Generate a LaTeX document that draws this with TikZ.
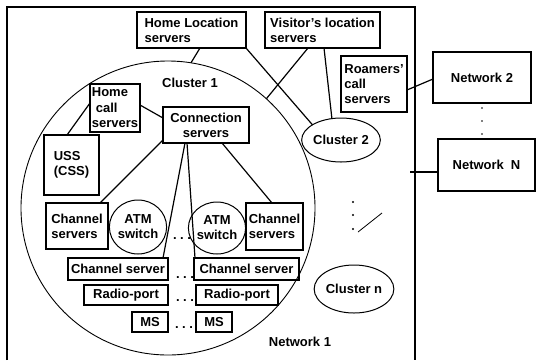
\documentclass[tikz,border=0pt]{standalone}
\usepackage{fontspec}
\setmainfont{Liberation Sans}
\usetikzlibrary{shapes.geometric}
\begin{document}
\begin{tikzpicture}[x=1pt,y=-1pt,
  txt/.style={font=\bfseries\fontsize{13}{15}\selectfont},
  box/.style={txt, draw, line width=1.1pt, rectangle, inner sep=0pt, outer sep=0pt, align=left},
  oval/.style={txt, draw, line width=1pt, ellipse, inner sep=0pt, outer sep=0pt, align=center},
  conn/.style={line width=1.2pt},
  frame/.style={line width=1.1pt},
  dotrow/.style={txt, inner sep=0pt, anchor=base}
]
\useasboundingbox (0,0) rectangle (538,360);
% Network 1 frame
\coordinate (fbl) at (7,360);
\coordinate (ftl) at (7,7);
\coordinate (ftr) at (415,7);
\coordinate (fbr) at (415,360);
\draw[frame] (fbl) -- (ftl) -- (ftr) -- (fbr);
% Cluster 1
\node[draw, circle, minimum size=294, inner sep=0pt, outer sep=0pt, line width=0.9pt] (c1) at (168,208) {};
\node[txt] (c1l) at (190,83) {Cluster 1};
% top servers
\node[box, minimum width=109, minimum height=36] (hls) at (191.5,30) {Home Location\\servers};
\node[box, minimum width=115, minimum height=36] (vls) at (322.5,30) {Visitor's location\\servers};
\node[box, minimum width=66, minimum height=56] (rcs) at (374,84) {Roamers'\\call\\servers};
\node[box, minimum width=98, minimum height=51, align=center] (net2) at (482,77.5) {Network 2};
\node[box, minimum width=97, minimum height=52, align=center] (netN) at (486.5,165) {Network\hspace{7pt}N};
% inside cluster 1
\node[box, minimum width=50, minimum height=48, font=\bfseries\fontsize{13}{15.5}\selectfont] (hcs) at (115,108) {Home\\\hspace{4pt}call\\servers};
\node[box, minimum width=86, minimum height=36, align=center] (cs) at (206,125) {Connection\\servers};
\node[box, minimum width=55, minimum height=60] (uss) at (71.5,165) {USS\\(CSS)};
\node[box, minimum width=62, minimum height=46] (chl) at (77,226) {Channel\\servers};
\node[oval, minimum width=50, minimum height=54] (atml) at (138,227) {ATM\\switch};
\node[oval, minimum width=46, minimum height=52] (atmr) at (217,228) {ATM\\switch};
\node[box, minimum width=57, minimum height=47] (chr) at (274.5,226.5) {Channel\\servers};
\node[box, minimum width=100, minimum height=22, align=center] (csl) at (118,269) {Channel server};
\node[box, minimum width=105, minimum height=22, align=center] (csr) at (246.5,269) {Channel server};
\node[box, minimum width=84, minimum height=20, align=center] (rpl) at (126,295) {Radio-port};
\node[box, minimum width=82, minimum height=20, align=center] (rpr) at (237,295) {Radio-port};
\node[box, minimum width=36, minimum height=20, align=center] (msl) at (150,322) {MS};
\node[box, minimum width=36, minimum height=20, align=center] (msr) at (214,322) {MS};
\node[dotrow] (d1) at (182,239) {.\hspace{3.5pt}.\hspace{3.5pt}.};
\node[dotrow] (d2) at (185,278) {.\hspace{3.5pt}.\hspace{3.5pt}.};
\node[dotrow] (d3) at (185,301) {.\hspace{3.5pt}.\hspace{3.5pt}.};
\node[dotrow] (d4) at (184,328) {.\hspace{3.5pt}.\hspace{3.5pt}.};
% other clusters
\node[oval, minimum width=62, minimum height=44] (cl2) at (341,140) {Cluster 2};
\node[oval, minimum width=69, minimum height=48] (cln) at (354,289) {Cluster n};
\node[txt] (n1l) at (300,342) {Network 1};
% dots
\fill (482,108) circle (0.9) (482,121) circle (0.9) (482,134) circle (0.9);
\fill (353,202) circle (1.1) (353,215) circle (1.1) (353,229) circle (1.1);
\coordinate (sl1) at (358,232);
\coordinate (sl2) at (382,213);
\draw[line width=0.8pt] (sl1) -- (sl2);
% connectors
\coordinate (nNend) at (410,172);
\draw[conn] ([xshift=8.5pt]hls.south) -- (c1.81);
\draw[conn] (hls.south east) -- (cl2.152);
\draw[conn] ([xshift=-14.5pt]vls.south) -- (c1.48);
\draw[conn] ([xshift=1.5pt]vls.south) -- (cl2.113);
\draw[conn] ([yshift=-6pt]rcs.east) -- ([yshift=-1.5pt]net2.west);
\draw[conn] ([yshift=-7pt]netN.west) -- (nNend);
\draw[conn] ([yshift=5pt]hcs.west) -- ([xshift=-4.5pt]uss.north);
\draw[conn] ([yshift=3pt]hcs.east) -- ([yshift=7pt]cs.west);
\draw[conn] ([yshift=3pt]cs.south west) -- ([xshift=-8pt]chl.north east);
\draw[conn] ([xshift=-21pt]cs.south) -- ([xshift=-5pt]csl.north east);
\draw[conn] ([xshift=-19pt]cs.south) -- ([xshift=1pt]csr.north west);
\draw[conn] ([xshift=16pt]cs.south) -- ([xshift=-2.5pt]chr.north);
\end{tikzpicture}
\end{document}
